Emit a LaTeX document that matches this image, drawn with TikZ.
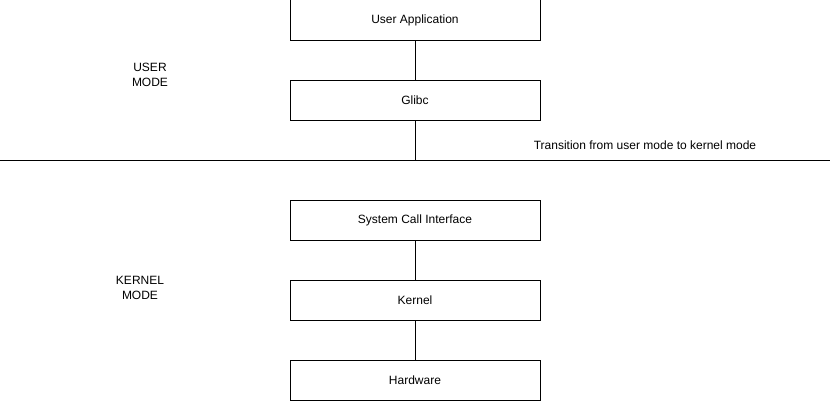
\documentclass[tikz,border=0pt]{standalone}
\usepackage{fontspec}
\setmainfont{Liberation Sans}
\usepackage{tikz}
\usetikzlibrary{positioning}

\begin{document}
\begin{tikzpicture}[
  layer/.style={draw, line width=0.75pt, minimum height=30pt, minimum width=187.5pt, align=center, inner sep=0pt, outer sep=0pt},
  lbl/.style={font=\fontsize{9}{11}\selectfont, align=center},
  node distance=30pt
]
  \useasboundingbox (0,0) rectangle (624pt,300.75pt);
  \node[layer, font=\fontsize{9}{11}\selectfont] (app) at (311.25pt,285.75pt) {User Application};
  \node[layer, font=\fontsize{9}{11}\selectfont, below=of app] (glibc) {Glibc};
  \node[layer, font=\fontsize{9}{11}\selectfont, below=60pt of glibc] (sci) {System Call Interface};
  \node[layer, font=\fontsize{9}{11}\selectfont, below=of sci] (kern) {Kernel};
  \node[layer, font=\fontsize{9}{11}\selectfont, below=of kern] (hw) {Hardware};

  \node[lbl] (umode) at (112.5pt,244.5pt) {USER\\MODE};
  \node[lbl] (kmode) at (105pt,84.75pt) {KERNEL\\MODE};
  \node[lbl] (trans) at (483.75pt,192pt) {Transition from user mode to kernel mode};

  \coordinate[below=30pt of glibc.south] (cross);
  \coordinate (divL) at (0pt,180.75pt);
  \coordinate (divR) at (622.5pt,180.75pt);

  \draw[line width=0.75pt] (divL) -- (divR);
  \draw[line width=0.75pt] (app) -- (glibc);
  \draw[line width=0.75pt] (glibc) -- (cross);
  \draw[line width=0.75pt] (sci) -- (kern);
  \draw[line width=0.75pt] (kern) -- (hw);
\end{tikzpicture}
\end{document}
